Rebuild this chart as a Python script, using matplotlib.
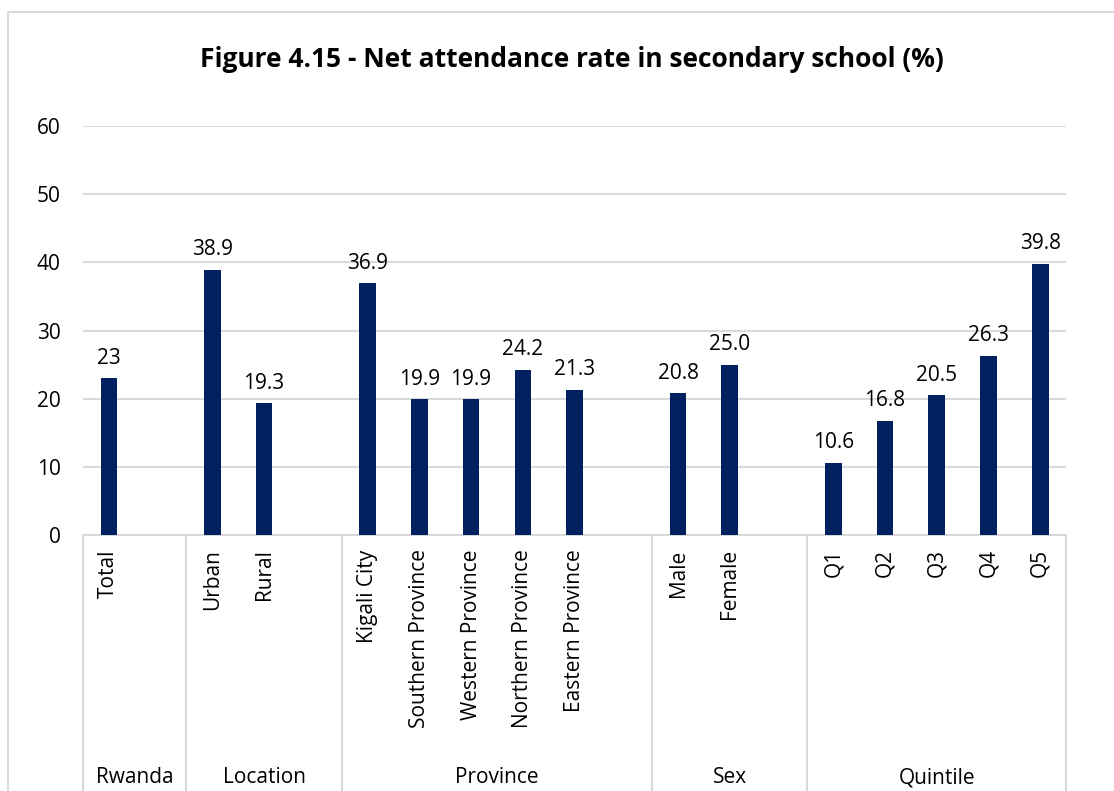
import matplotlib
matplotlib.use('Agg')
import matplotlib.pyplot as plt
from matplotlib.patches import Rectangle

plt.rcParams['font.family'] = ['Open Sans', 'DejaVu Sans']

# groups of the category axis and their members
groups = ['Rwanda', 'Location', 'Province', 'Sex', 'Quintile']
rwanda = ['Total']
location = ['Urban', 'Rural']
province = ['Kigali City', 'Southern Province', 'Western Province',
            'Northern Province', 'Eastern Province']
sex = ['Male', 'Female']
quintile = ['Q1', 'Q2', 'Q3', 'Q4', 'Q5']

# net attendance rate (%)
rwanda_vals = [23]
location_vals = [38.9, 19.3]
province_vals = [36.9, 19.9, 19.9, 24.2, 21.3]
sex_vals = [20.8, 25.0]
quintile_vals = [10.6, 16.8, 20.5, 26.3, 39.8]

labels = ['23', '38.9', '19.3', '36.9', '19.9', '19.9', '24.2', '21.3',
          '20.8', '25.0', '10.6', '16.8', '20.5', '26.3', '39.8']

members = [rwanda, location, province, sex, quintile]
values = [rwanda_vals, location_vals, province_vals, sex_vals, quintile_vals]

bar_color = '#002060'
grid_color = '#d9d9d9'
fs = 15

fig = plt.figure(figsize=(11.14, 7.91), dpi=100)
ax = fig.add_axes([0.0745, 0.3236, 0.8825, 0.5171])

# every group but the last is followed by one empty slot
xs, ys, names, bounds, centers = [], [], [], [-0.5], []
pos = 0
for i, (cats, vals) in enumerate(zip(members, values)):
    start = pos
    for c, v in zip(cats, vals):
        xs.append(pos)
        ys.append(v)
        names.append(c)
        pos += 1
    if i < len(members) - 1:
        pos += 1
    bounds.append(pos - 0.5)
    centers.append((start - 0.5 + pos - 0.5) / 2)

ax.bar(xs, ys, width=0.32, color=bar_color, zorder=3)
for x, y, lab in zip(xs, ys, labels):
    ax.annotate(lab, (x, y), xytext=(0, 7), textcoords='offset points',
                ha='center', va='bottom', fontsize=fs, color='black')

ax.set_xlim(-0.5, pos - 0.5)
ax.set_ylim(0, 60)
ax.set_yticks(range(0, 61, 10))
ax.yaxis.grid(True, color=grid_color, linewidth=1.5, zorder=0)
ax.tick_params(axis='y', length=0, pad=16, labelsize=fs)
ax.set_xticks([])
for s in ['top', 'right', 'left']:
    ax.spines[s].set_visible(False)
ax.spines['bottom'].set_color(grid_color)
ax.spines['bottom'].set_linewidth(1.5)

trans = ax.get_xaxis_transform()
for x, n in zip(xs, names):
    ax.text(x, -0.035, n, rotation=90, ha='center', va='top',
            fontsize=fs, transform=trans)
for b in bounds:
    ax.plot([b, b], [0, -0.7], color=grid_color, lw=1.5,
            transform=trans, clip_on=False)
for c, g in zip(centers, groups):
    ax.text(c, -0.594, g, ha='center', va='center', fontsize=fs,
            transform=trans)

fig.suptitle('Figure 4.15 - Net attendance rate in secondary school (%)',
             x=0.513, y=0.942, fontsize=19, fontweight='bold')

# chart border
fig.patches.append(Rectangle((0.0072, -0.1), 1.2, 1.085, transform=fig.transFigure,
                             fill=False, edgecolor=grid_color, lw=1.5))

plt.savefig('out.png', dpi=100)
